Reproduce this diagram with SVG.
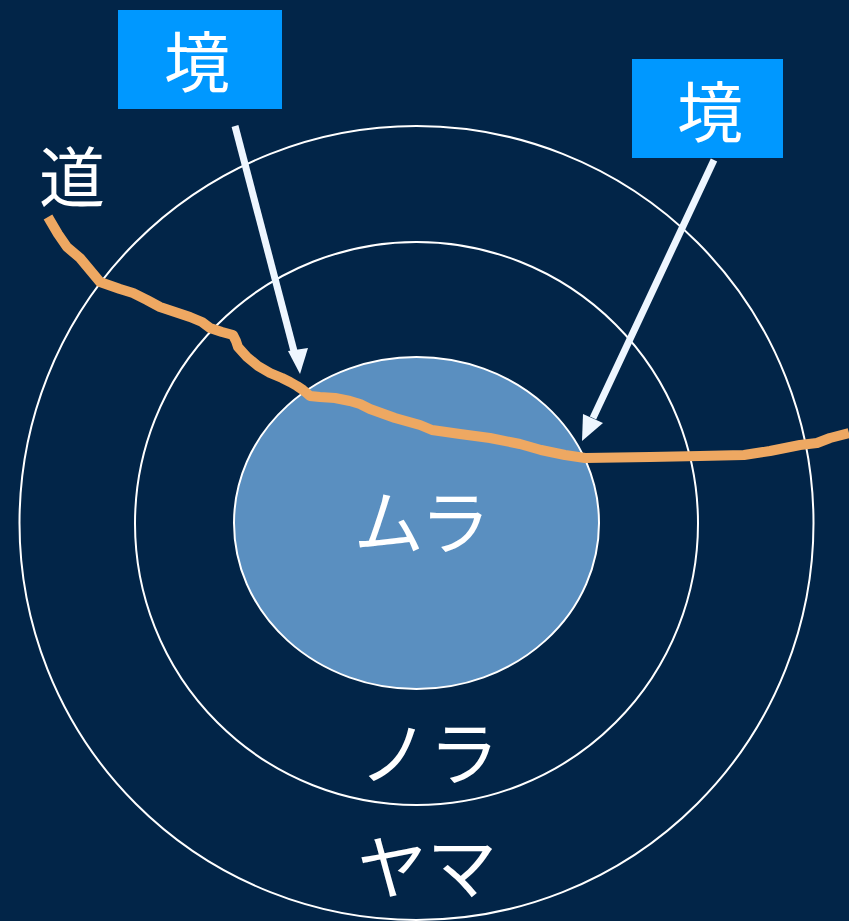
<svg xmlns="http://www.w3.org/2000/svg" width="849" height="921" viewBox="0 0 849 921">
<defs>
<style>
.ring{fill:none;stroke:#ffffff;stroke-width:2}
.lbl{font-family:"Noto Sans CJK JP","Noto Sans CJK SC",sans-serif;fill:#ffffff;font-size:66px;text-anchor:middle}
.big{font-size:70px}
.box{fill:#0098FF}
.arr{stroke:#EEF6FF;stroke-width:7;fill:none}
.road{fill:none;stroke:#EEA862;stroke-width:10;stroke-linejoin:round;stroke-linecap:butt}
</style>
</defs>
<rect width="849" height="921" fill="#022548"/>
<g id="yama"><circle class="ring" cx="416.5" cy="523" r="397"/><text class="lbl big" x="427" y="894">ヤマ</text></g>
<g id="nora"><circle class="ring" cx="416.5" cy="523.5" r="281.5"/><text class="lbl big" x="429" y="780">ノラ</text></g>
<g id="mura"><ellipse cx="416.5" cy="523" rx="182.5" ry="166" fill="#5A8FC0" stroke="#ffffff" stroke-width="2"/><text class="lbl big" x="422" y="549">ムラ</text></g>
<g id="michi">
<path class="road" d="M48,217 L58,234 L67,247 L80,258 L100,282 L120,289 L133,293 L147,300 L160,307 L175,312 L190,317 L202,322 L210,328 L222,332 L233,335 L236,341 L238,347 L247,357 L258,366 L270,373 L282,378 L290,382 L297,386 L303,390 L310,396 L320,397 L335,398 L350,401 L360,404 L370,409 L395,418 L420,425 L432,430 L460,434 L490,438 L520,444 L541,450 L565,455 L585,458 L650,457 L700,456 L744,455 L770,451 L800,445 L817,443 L830,438 L849,433"/>
<text class="lbl" x="72" y="202">道</text>
</g>
<g id="sakai1"><rect class="box" x="118" y="10" width="164" height="99"/><text class="lbl" x="197" y="87">境</text></g>
<g id="sakai2"><rect class="box" x="632" y="59" width="151" height="99"/><text class="lbl" x="710" y="137">境</text></g>
<g id="connectors">
<line class="arr" x1="235" y1="126" x2="295" y2="355"/>
<path d="M300,374 L288,351 L308,348 z" fill="#EEF6FF"/>
<line class="arr" x1="714" y1="160" x2="593" y2="418"/>
<path d="M582,441 L583,414 L603,423 z" fill="#EEF6FF"/>
</g>
</svg>
